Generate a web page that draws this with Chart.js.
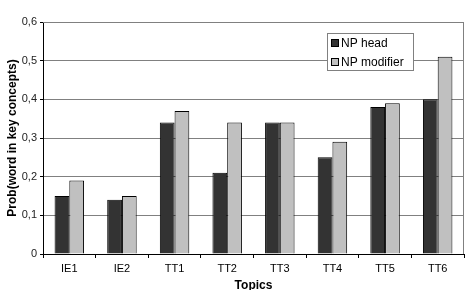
<!DOCTYPE html>
<html>
<head>
<meta charset="utf-8">
<script src="https://cdn.jsdelivr.net/npm/chart.js@4"></script>
<style>
  body { margin: 0; background: #fff; }
  #wrap { width: 468px; height: 290px; }
</style>
</head>
<body>
<div id="wrap"><canvas id="chart"></canvas></div>
<script>
// data
let topics = ["IE1", "IE2", "TT1", "TT2", "TT3", "TT4", "TT5", "TT6"]
let npHead = [0.15, 0.14, 0.34, 0.21, 0.34, 0.25, 0.38, 0.40]
let npModifier = [0.19, 0.15, 0.37, 0.34, 0.34, 0.29, 0.39, 0.51]
let seriesNames = ["NP head", "NP modifier"]

const FONT = "'Liberation Sans', Arial, sans-serif"

// legend box drawn inside the plot area, like the original
const boxLegend = {
    id: 'boxLegend',
    afterDraw(chart) {
        let ctx = chart.ctx
        let area = chart.chartArea
        let x = area.right - 137
        let y = area.top + 11
        let w = 86
        let h = 37
        ctx.save()
        ctx.fillStyle = '#fff'
        ctx.fillRect(x, y, w, h)
        ctx.strokeStyle = '#808080'
        ctx.lineWidth = 1
        ctx.strokeRect(x + 0.5, y + 0.5, w, h)
        ctx.font = '12px ' + FONT
        ctx.textBaseline = 'middle'
        chart.data.datasets.forEach((ds, i) => {
            let cy = y + 10 + i * 19
            ctx.fillStyle = ds.backgroundColor
            ctx.fillRect(x + 4, cy - 4, 7, 7)
            ctx.strokeStyle = '#000'
            ctx.strokeRect(x + 4.5, cy - 3.5, 7, 7)
            ctx.fillStyle = '#000'
            ctx.fillText(ds.label, x + 14, cy + 1)
        })
        ctx.restore()
    }
}

// gray border around the plot area
const plotBorder = {
    id: 'plotBorder',
    beforeDatasetsDraw(chart) {
        let ctx = chart.ctx
        let a = chart.chartArea
        ctx.save()
        ctx.strokeStyle = '#808080'
        ctx.lineWidth = 1
        ctx.beginPath()
        ctx.moveTo(a.left, a.top + 0.5)
        ctx.lineTo(a.right - 0.5, a.top + 0.5)
        ctx.lineTo(a.right - 0.5, a.bottom)
        ctx.stroke()
        ctx.restore()
    }
}

let ctx = document.getElementById("chart")
let chart = new Chart(ctx, {
    type: 'bar',
    data: {
        labels: topics,
        datasets: [{
            label: seriesNames[0],
            data: npHead,
            backgroundColor: '#333333',
            borderColor: '#000',
            borderWidth: 1
        }, {
            label: seriesNames[1],
            data: npModifier,
            backgroundColor: '#c0c0c0',
            borderColor: '#000',
            borderWidth: 1
        }]
    },
    options: {
        responsive: true,
        maintainAspectRatio: false,
        animation: false,
        layout: { padding: { top: 22, right: 4, bottom: 0, left: 0 } },
        datasets: { bar: { categoryPercentage: 0.56, barPercentage: 1 } },
        scales: {
            x: {
                afterFit: function (scale) { scale.height = 36 },
                grid: {
                    display: true,
                    drawOnChartArea: false,
                    offset: true,
                    tickLength: 4,
                    tickColor: '#000'
                },
                border: { color: '#000' },
                ticks: { color: '#000', padding: 4, font: { family: FONT, size: 11 } },
                title: {
                    display: true,
                    text: 'Topics',
                    color: '#000',
                    padding: { top: 0, bottom: 0 },
                    font: { family: FONT, size: 12, weight: 'bold', lineHeight: 0.8 }
                }
            },
            y: {
                min: 0,
                max: 0.6,
                afterFit: function (scale) { scale.width = 43 },
                ticks: {
                    stepSize: 0.1,
                    color: '#222',
                    padding: 3,
                    font: { family: FONT, size: 11 },
                    callback: function (value) {
                        if (value === 0) return '0'
                        return value.toFixed(1).replace('.', ',')
                    }
                },
                grid: { color: '#808080', tickLength: 3, tickColor: '#000' },
                border: { color: '#000' },
                title: {
                    display: true,
                    text: 'Prob(word in key concepts)',
                    color: '#000',
                    padding: { top: 5, bottom: 0 },
                    font: { family: FONT, size: 12, weight: 'bold' }
                }
            }
        },
        plugins: {
            legend: { display: false },
            tooltip: { enabled: false }
        }
    },
    plugins: [plotBorder, boxLegend]
})
</script>
</body>
</html>
